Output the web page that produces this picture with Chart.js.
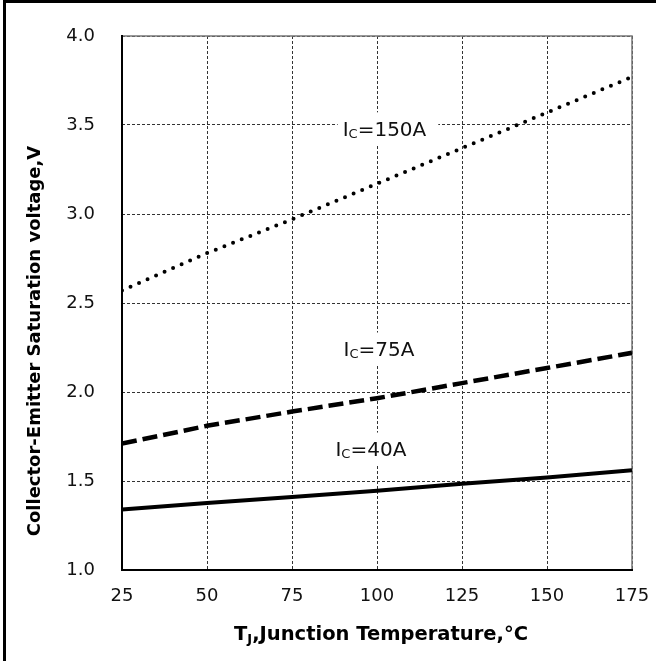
<!DOCTYPE html>
<html>
<head>
<meta charset="utf-8">
<script src="https://cdn.jsdelivr.net/npm/chart.js@4"></script>
<style>
  html, body { margin: 0; padding: 0; background: #fff; }
  #wrap { position: relative; width: 656px; height: 661px; }
  #frame { position: absolute; left: 3px; top: 0; right: 0; bottom: 0;
           border-top: 3px solid #000; border-left: 3px solid #000; pointer-events: none; }
</style>
</head>
<body>
<div id="wrap">
  <canvas id="grafica" width="656" height="661"></canvas>
  <div id="frame"></div>
</div>
<script>
// Tensión de saturación vs temperatura de unión
const temperaturas = [25, 50, 75, 100, 125, 150, 175];
const vce_150A = [2.57, 2.78, 2.97, 3.17, 3.37, 3.57, 3.77];
const vce_75A = [1.71, 1.81, 1.89, 1.965, 2.05, 2.135, 2.22];
const vce_40A = [1.34, 1.377, 1.41, 1.445, 1.485, 1.52, 1.56];

const etiquetas = ['150A', '75A', '40A'];
const etiquetas_x = [102.2, 100.6, 98.2];
const etiquetas_y = [3.47, 2.233, 1.671];

const titulo_x = ['T', 'J', ',Junction Temperature,°C'];
const titulo_y = 'Collector-Emitter Saturation voltage,V';

const fuente = '"DejaVu Sans", Verdana, sans-serif';

function puntos(lista) {
    return temperaturas.map((t, i) => ({x: t, y: lista[i]}));
}

// Marco del área de trazado, etiquetas de corriente y títulos de los ejes
const extras = {
    id: 'extras',
    beforeDatasetsDraw(chart) {
        const ctx = chart.ctx;
        const a = chart.chartArea;
        ctx.save();
        ctx.strokeStyle = '#777';
        ctx.lineWidth = 1.5;
        ctx.beginPath();
        ctx.moveTo(a.left, a.top);
        ctx.lineTo(a.right, a.top);
        ctx.lineTo(a.right, a.bottom);
        ctx.stroke();
        ctx.strokeStyle = '#000';
        ctx.lineWidth = 2;
        ctx.beginPath();
        ctx.moveTo(a.left, a.top - 1);
        ctx.lineTo(a.left, a.bottom);
        ctx.lineTo(a.right + 1, a.bottom);
        ctx.stroke();
        ctx.restore();
    },
    afterDatasetsDraw(chart) {
        const ctx = chart.ctx;
        const a = chart.chartArea;
        const sx = chart.scales.x, sy = chart.scales.y;
        ctx.save();
        ctx.textBaseline = 'middle';
        ctx.textAlign = 'left';
        etiquetas.forEach((txt, i) => {
            const cx = sx.getPixelForValue(etiquetas_x[i]);
            const cy = sy.getPixelForValue(etiquetas_y[i]);
            ctx.font = '20px ' + fuente;
            const wI = ctx.measureText('I').width;
            const wR = ctx.measureText('=' + txt).width;
            ctx.font = '13px ' + fuente;
            const wC = ctx.measureText('C').width;
            const w = wI + wC + wR;
            const x0 = cx - w / 2;
            ctx.fillStyle = '#fff';
            ctx.fillRect(x0 - 5, cy - 18, w + 17, 33);
            ctx.fillStyle = '#111';
            ctx.font = '20px ' + fuente;
            ctx.fillText('I', x0, cy);
            ctx.font = '13px ' + fuente;
            ctx.fillText('C', x0 + wI, cy + 4);
            ctx.font = '20px ' + fuente;
            ctx.fillText('=' + txt, x0 + wI + wC, cy);
        });

        // título del eje X con subíndice
        const yT = 635;
        ctx.fillStyle = '#000';
        ctx.font = 'bold 19.5px ' + fuente;
        const w1 = ctx.measureText(titulo_x[0]).width;
        const w3 = ctx.measureText(titulo_x[2]).width;
        ctx.font = 'bold 13px ' + fuente;
        const w2 = ctx.measureText(titulo_x[1]).width;
        let x0 = (a.left + a.right) / 2 - (w1 + w2 + w3) / 2 + 4;
        ctx.font = 'bold 19.5px ' + fuente;
        ctx.fillText(titulo_x[0], x0, yT);
        ctx.font = 'bold 13px ' + fuente;
        ctx.fillText(titulo_x[1], x0 + w1, yT + 5);
        ctx.font = 'bold 19.5px ' + fuente;
        ctx.fillText(titulo_x[2], x0 + w1 + w2, yT);

        // título del eje Y, girado
        ctx.translate(35, 341);
        ctx.rotate(-Math.PI / 2);
        ctx.textAlign = 'center';
        ctx.font = 'bold 18px ' + fuente;
        ctx.fillText(titulo_y, 0, 0);
        ctx.restore();
    }
};

const canvas = document.getElementById('grafica');
new Chart(canvas.getContext('2d'), {
    type: 'scatter',
    data: {
        datasets: [{
            label: 'IC=150A',
            data: puntos(vce_150A),
            showLine: true,
            borderColor: '#000',
            borderWidth: 4,
            borderDash: [0, 9.3],
            borderCapStyle: 'round',
            pointRadius: 0
        }, {
            label: 'IC=75A',
            data: puntos(vce_75A),
            showLine: true,
            borderColor: '#000',
            borderWidth: 4.5,
            borderDash: [15, 6],
            borderCapStyle: 'butt',
            pointRadius: 0
        }, {
            label: 'IC=40A',
            data: puntos(vce_40A),
            showLine: true,
            borderColor: '#000',
            borderWidth: 4,
            pointRadius: 0
        }]
    },
    options: {
        responsive: false,
        animation: false,
        layout: {
            padding: {top: 36, right: 24, left: 0, bottom: 0}
        },
        scales: {
            x: {
                type: 'linear',
                min: 25,
                max: 175,
                afterFit(scale) {
                    scale.height = 91;
                    scale.paddingLeft = 0;
                    scale.paddingRight = 0;
                },
                ticks: {
                    stepSize: 25,
                    padding: 16,
                    color: '#111',
                    font: {family: fuente, size: 18}
                },
                grid: {color: '#333', lineWidth: 1, drawTicks: false},
                border: {display: false, dash: [3, 2]}
            },
            y: {
                type: 'linear',
                min: 1.0,
                max: 4.0,
                afterFit(scale) {
                    scale.width = 122;
                    scale.paddingTop = 0;
                    scale.paddingBottom = 0;
                },
                ticks: {
                    stepSize: 0.5,
                    padding: 27,
                    color: '#111',
                    font: {family: fuente, size: 18},
                    callback: (v) => v.toFixed(1)
                },
                grid: {color: '#333', lineWidth: 1, drawTicks: false},
                border: {display: false, dash: [3, 2]}
            }
        },
        plugins: {
            legend: {display: false},
            tooltip: {enabled: false}
        }
    },
    plugins: [extras]
});
</script>
</body>
</html>
